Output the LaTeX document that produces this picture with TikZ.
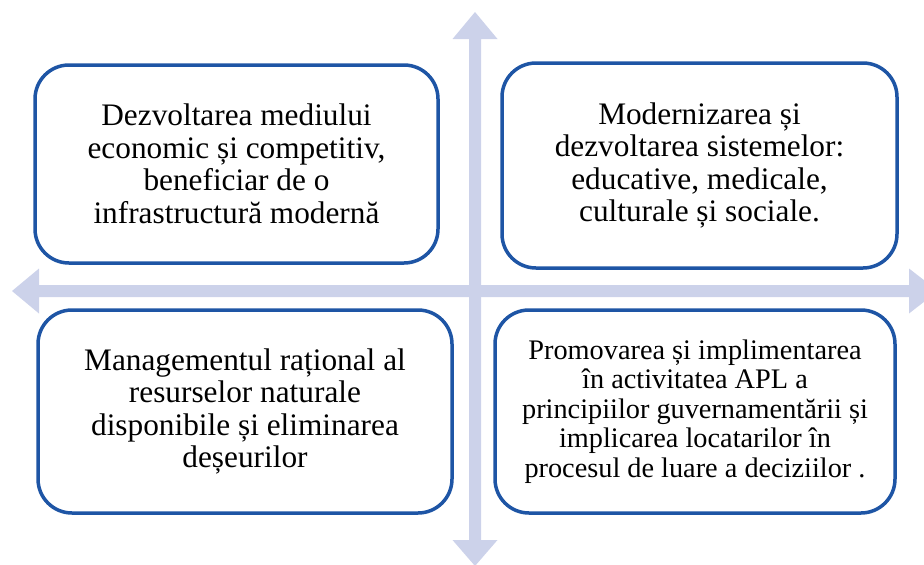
\documentclass[tikz,border=0pt]{standalone}
\usepackage{fontspec}
\setmainfont{Liberation Serif}
\definecolor{boxblue}{RGB}{30,85,165}
\definecolor{arrowfill}{RGB}{204,210,234}
\begin{document}
\begin{tikzpicture}[x=1pt,y=-1pt,
  quadbox/.style={draw=boxblue, line width=3.5pt, rounded corners=34pt, fill=white,
    align=center, inner sep=0pt, font=\fontsize{31.3}{32.5}\selectfont},
  crossarrow/.style={fill=arrowfill, draw=none}]
\useasboundingbox (0,0) rectangle (924,565);
\begin{scope}
\clip (0,0) rectangle (924,565);
% vertical double arrow
\fill[crossarrow] (475,12) -- (497.5,39) -- (481,39) -- (481,540) -- (497.5,540) -- (475,566)
  -- (452.5,540) -- (469,540) -- (469,39) -- (452.5,39) -- cycle;
% horizontal double arrow
\fill[crossarrow] (12,291) -- (39,268.5) -- (39,285) -- (909,285) -- (909,268.5) -- (938,291)
  -- (909,313.5) -- (909,297) -- (39,297) -- (39,313.5) -- cycle;
\end{scope}
\node[quadbox, minimum width=403pt, minimum height=198pt] (tl) at (236.5,164)
  {Dezvoltarea mediului\\economic și competitiv,\\beneficiar de o\\infrastructură modernă};
\node[quadbox, minimum width=395pt, minimum height=205pt] (tr) at (699.5,165.5)
  {Modernizarea și\\dezvoltarea sistemelor:\\educative, medicale,\\culturale și sociale.};
\node[quadbox, minimum width=414pt, minimum height=203pt] (bl) at (245,411.5)
  {Managementul rațional al\\resurselor naturale\\disponibile și eliminarea\\deșeurilor};
\node[quadbox, minimum width=400pt, minimum height=203pt, font=\fontsize{28.3}{29.6}\selectfont] (br) at (695,411.5)
  {Promovarea și implimentarea\\în activitatea APL a\\principiilor guvernamentării și\\implicarea locatarilor în\\procesul de luare a deciziilor .};
\end{tikzpicture}
\end{document}
